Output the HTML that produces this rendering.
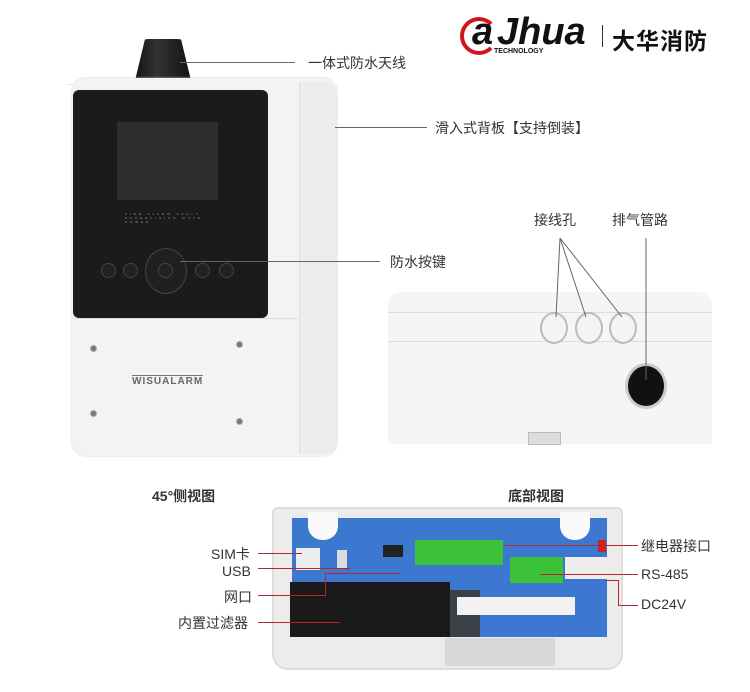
<!DOCTYPE html>
<html><head><meta charset="utf-8"><style>
*{margin:0;padding:0;box-sizing:border-box}
body{width:750px;height:692px;background:#fff;position:relative;overflow:hidden;font-family:"Liberation Sans","Noto Sans CJK SC",sans-serif;color:#222}
.a{position:absolute}
.lbl{position:absolute;font-size:14px;white-space:nowrap;color:#333}
.ln{position:absolute;background:#666;height:1px}
.rl{position:absolute;background:#b3262c}
.key{position:absolute;width:15px;height:15px;border-radius:50%;background:#222;border:1px solid #444}
.scr{position:absolute;width:7px;height:7px;border-radius:50%;background:#777;border:1px solid #aaa}
.hole{position:absolute;width:28px;height:32px;border-radius:50%;border:2px solid #bbb;background:#f4f4f4}
.term{position:absolute;background:#3cc23a}
</style></head><body>

<!-- logo -->
<div class="a" style="left:460px;top:17px;width:38px;height:38px;border:4px solid #d0141a;border-radius:50%;border-right-color:transparent"></div>
<div class="a" style="left:472px;top:11px;font:italic bold 38px 'Liberation Sans',sans-serif;color:#111;letter-spacing:0px">a</div>
<div class="a" style="left:497px;top:11px;font:italic bold 38px 'Liberation Sans',sans-serif;color:#111;letter-spacing:0px">Jhua</div>
<div class="a" style="left:494px;top:48px;font:bold 7px 'Liberation Sans',sans-serif;color:#111">TECHNOLOGY</div>
<div class="a" style="left:602px;top:25px;width:1px;height:22px;background:#333"></div>
<div class="a" style="left:612px;top:22px;font-size:23px;font-weight:bold;color:#111;letter-spacing:1px">大华消防</div>

<div class="a" style="left:68px;top:84px;width:260px;border-top:1px dotted #ddd"></div>

<!-- front device -->
<div class="a" style="left:133px;top:39px;width:60px;height:50px;background:linear-gradient(90deg,#111,#333 40%,#111);border-radius:16px 16px 0 0;clip-path:polygon(20% 0,80% 0,100% 100%,0 100%)"></div>
<div class="a" style="left:72px;top:78px;width:265px;height:378px;background:#f3f3f3;border-radius:14px;box-shadow:0 0 2px #ccc"></div>
<div class="a" style="left:299px;top:82px;width:38px;height:372px;background:#ececec;border-left:1px solid #ddd;border-radius:0 12px 12px 0"></div>
<div class="a" style="left:73px;top:90px;width:195px;height:228px;background:#1b1b1b;border-radius:6px"></div>
<div class="a" style="left:117px;top:122px;width:101px;height:78px;background:#2e2e2e"></div>
<div class="a" style="left:125px;top:212px;font-size:3px;color:#999;letter-spacing:3px;width:100px">FIRE ALARM FAULT SUPERVISION MUTE POWER</div>
<div class="key" style="left:101px;top:263px"></div>
<div class="key" style="left:123px;top:263px"></div>
<div class="a" style="left:145px;top:248px;width:42px;height:46px;border-radius:50%;background:#202020;border:1px solid #444"></div>
<div class="key" style="left:158px;top:263px"></div>
<div class="key" style="left:195px;top:263px"></div>
<div class="key" style="left:219px;top:263px"></div>
<div class="a" style="left:72px;top:318px;width:226px;height:1px;background:#ddd"></div>
<div class="scr" style="left:90px;top:345px"></div>
<div class="scr" style="left:236px;top:341px"></div>
<div class="scr" style="left:90px;top:410px"></div>
<div class="scr" style="left:236px;top:418px"></div>
<div class="a" style="left:132px;top:375px;font:bold 10px 'Liberation Sans',sans-serif;color:#666;border-top:1px solid #777;letter-spacing:1px">WISUALARM</div>

<div class="ln" style="left:180px;top:62px;width:115px"></div>
<div class="lbl" style="left:308px;top:53px">一体式防水天线</div>
<div class="ln" style="left:335px;top:127px;width:92px"></div>
<div class="lbl" style="left:435px;top:118px">滑入式背板【支持倒装】</div>
<div class="ln" style="left:180px;top:261px;width:200px"></div>
<div class="lbl" style="left:390px;top:252px">防水按键</div>

<!-- bottom view -->
<div class="lbl" style="left:534px;top:210px">接线孔</div>
<div class="lbl" style="left:612px;top:210px">排气管路</div>
<div class="a" style="left:388px;top:292px;width:324px;height:152px;background:#f5f5f5;border-radius:12px 12px 0 0"></div>
<div class="a" style="left:388px;top:312px;width:324px;height:1px;background:#ddd"></div>
<div class="a" style="left:388px;top:341px;width:324px;height:1px;background:#ddd"></div>
<div class="hole" style="left:540px;top:312px"></div>
<div class="hole" style="left:575px;top:312px"></div>
<div class="hole" style="left:609px;top:312px"></div>
<div class="a" style="left:625px;top:363px;width:42px;height:46px;border-radius:50%;background:#111;border:3px solid #ccc"></div>
<div class="a" style="left:528px;top:432px;width:33px;height:13px;background:#ddd;border:1px solid #bbb"></div>
<svg class="a" style="left:0;top:0" width="750" height="692">
<g stroke="#666" stroke-width="1" fill="none">
<line x1="560" y1="238" x2="556" y2="317"/><line x1="560" y1="238" x2="586" y2="317"/><line x1="560" y1="238" x2="622" y2="317"/>
<line x1="646" y1="238" x2="646" y2="380"/></g></svg>

<!-- PCB -->
<div class="lbl" style="left:152px;top:486px;font-weight:bold">45°侧视图</div>
<div class="lbl" style="left:508px;top:486px;font-weight:bold">底部视图</div>
<div class="a" style="left:272px;top:507px;width:351px;height:163px;background:#ececec;border:2px solid #ddd;border-radius:6px 6px 16px 16px"></div>
<div class="a" style="left:292px;top:518px;width:315px;height:119px;background:#3c78d0"></div>
<div class="a" style="left:290px;top:582px;width:160px;height:55px;background:#1a1a1a"></div>
<div class="a" style="left:450px;top:590px;width:30px;height:47px;background:#3a4048"></div>
<div class="term" style="left:415px;top:540px;width:88px;height:25px"></div>
<div class="term" style="left:510px;top:557px;width:53px;height:26px"></div>
<div class="a" style="left:565px;top:557px;width:42px;height:22px;background:#eee"></div>
<div class="a" style="left:457px;top:597px;width:118px;height:18px;background:#f2f2f2"></div>
<div class="a" style="left:383px;top:545px;width:20px;height:12px;background:#222"></div>
<div class="a" style="left:296px;top:548px;width:24px;height:22px;background:#eee"></div>
<div class="a" style="left:337px;top:550px;width:10px;height:18px;background:#ddd"></div>
<div class="a" style="left:308px;top:512px;width:30px;height:28px;background:#fafafa;border-radius:0 0 14px 14px"></div>
<div class="a" style="left:560px;top:512px;width:30px;height:28px;background:#fafafa;border-radius:0 0 14px 14px"></div>
<div class="a" style="left:445px;top:638px;width:110px;height:28px;background:#d8d8d8"></div>
<div class="a" style="left:598px;top:540px;width:8px;height:12px;background:#c22"></div>

<div class="rl" style="left:258px;top:553px;width:44px;height:1px"></div>
<div class="rl" style="left:258px;top:568px;width:92px;height:1px"></div>
<div class="rl" style="left:258px;top:595px;width:68px;height:1px"></div>
<div class="rl" style="left:325px;top:573px;width:1px;height:22px"></div>
<div class="rl" style="left:325px;top:573px;width:75px;height:1px"></div>
<div class="rl" style="left:258px;top:622px;width:82px;height:1px"></div>
<div class="rl" style="left:505px;top:545px;width:133px;height:1px"></div>
<div class="rl" style="left:540px;top:574px;width:98px;height:1px"></div>
<div class="rl" style="left:606px;top:580px;width:13px;height:1px"></div>
<div class="rl" style="left:618px;top:580px;width:1px;height:25px"></div>
<div class="rl" style="left:618px;top:605px;width:20px;height:1px"></div>

<div class="lbl" style="left:211px;top:544px">SIM卡</div>
<div class="lbl" style="left:222px;top:563px">USB</div>
<div class="lbl" style="left:224px;top:587px">网口</div>
<div class="lbl" style="left:178px;top:613px">内置过滤器</div>
<div class="lbl" style="left:641px;top:536px">继电器接口</div>
<div class="lbl" style="left:641px;top:566px">RS-485</div>
<div class="lbl" style="left:641px;top:596px">DC24V</div>
</body></html>
